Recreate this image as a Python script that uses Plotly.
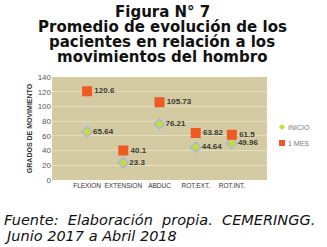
import plotly.graph_objects as go

categories = ["FLEXION", "EXTENSION", "ABDUC", "ROT.EXT.", "ROT.INT."]
inicio = [65.64, 23.3, 76.21, 44.64, 49.96]
un_mes = [120.6, 40.1, 105.73, 63.82, 61.5]
y_ticks = [0, 20, 40, 60, 80, 100, 120, 140]
series_names = ["INICIO", "1 MES"]
title_lines = ["Figura N° 7", "Promedio de evolución de los",
               "pacientes en relación a los", "movimientos del hombro"]
footer_lines = ["Fuente:&nbsp; Elaboración&nbsp; propia.&nbsp; CEMERINGG.",
                "Junio 2017 a Abril 2018"]

W, H = 327, 247
ML, MR, MT, MB = 52, 60, 77, 67
PW, PH = W - ML - MR, H - MT - MB

def px_x(x):
    return (x - ML) / PW

def px_y(y):
    return (H - MB - y) / PH

GREEN = "#c6dc3a"
ORANGE = "#ee5a24"
label_font = dict(family="Liberation Sans", size=8, color="#3a3a30")

fig = go.Figure()
fig.add_trace(go.Scatter(
    x=categories, y=inicio, mode="markers+text", name=series_names[0],
    marker=dict(symbol="diamond", size=8, color=GREEN,
                line=dict(color="#a9b8d8", width=1.5)),
    text=["<b>%s</b>" % v for v in inicio], textposition="middle right",
    textfont=label_font,
))
fig.add_trace(go.Scatter(
    x=categories, y=un_mes, mode="markers+text", name=series_names[1],
    marker=dict(symbol="square", size=10, color=ORANGE),
    text=["<b>%s</b>" % v for v in un_mes], textposition="middle right",
    textfont=label_font,
))

fig.update_layout(
    width=W, height=H,
    margin=dict(l=ML, r=MR, t=MT, b=MB, autoexpand=False),
    paper_bgcolor="white", plot_bgcolor="#d4cba2",
    showlegend=False,
    font=dict(family="Liberation Sans"),
    xaxis=dict(range=[-0.97, 4.97], showgrid=False, zeroline=False,
               tickangle=0, tickfont=dict(size=6.5, color="#333"), ticks=""),
    yaxis=dict(range=[0, 140], tickvals=y_ticks, gridcolor="#e4ddbf",
               zeroline=False, tickfont=dict(size=8, color="#555"),
               title=dict(text="<b>GRADOS DE MOVIMIENTO</b>",
                          font=dict(size=7, color="#333"), standoff=4)),
)

# manual legend (small symbols close to their labels, as in the reference)
leg_x, leg_y = 282, [127, 143]
fig.add_shape(type="path", xref="paper", yref="paper",
              path="M %f,%f L %f,%f L %f,%f L %f,%f Z" % (
                  px_x(leg_x - 3), px_y(leg_y[0]), px_x(leg_x), px_y(leg_y[0] - 3),
                  px_x(leg_x + 3), px_y(leg_y[0]), px_x(leg_x), px_y(leg_y[0] + 3)),
              fillcolor=GREEN, line=dict(width=0))
fig.add_shape(type="rect", xref="paper", yref="paper",
              x0=px_x(leg_x - 3), x1=px_x(leg_x + 3),
              y0=px_y(leg_y[1] - 3), y1=px_y(leg_y[1] + 3),
              fillcolor=ORANGE, line=dict(width=0))
for name, yy in zip(series_names, leg_y):
    fig.add_annotation(text=name, xref="paper", yref="paper",
                       x=px_x(leg_x + 5), y=px_y(yy), xanchor="left", yanchor="middle",
                       showarrow=False, borderpad=0,
                       font=dict(family="Liberation Sans", size=7, color="#777"))

for i, line in enumerate(title_lines):
    fig.add_annotation(
        text="<b>%s</b>" % line, xref="paper", yref="paper",
        x=px_x(162), y=px_y(12 + 15 * i), xanchor="center", yanchor="middle",
        showarrow=False, borderpad=0,
        font=dict(family="DejaVu Sans", size=15, color="#111"),
    )

for i, line in enumerate(footer_lines):
    fig.add_annotation(
        text="<i>%s</i>" % line, xref="paper", yref="paper",
        x=px_x(3), y=px_y(220 + 16 * i), xanchor="left", yanchor="middle",
        showarrow=False, align="left", borderpad=0,
        font=dict(family="DejaVu Sans", size=14.5, color="#111"),
    )

fig.write_html("out.html", config={"displayModeBar": False},
               post_script="document.body.style.margin='0';")
